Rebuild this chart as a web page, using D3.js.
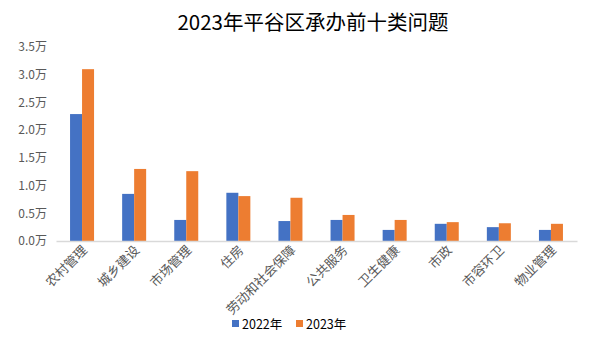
<!DOCTYPE html>
<html><head><meta charset="utf-8">
<script src="https://cdn.jsdelivr.net/npm/d3@7"></script>
<style>body{margin:0;background:#fff}svg{display:block}</style>
</head><body><svg id="c" width="593" height="338"></svg>
<script>
const categories = ["农村管理","城乡建设","市场管理","住房","劳动和社会保障","公共服务","卫生健康","市政","市容环卫","物业管理"];
const series2022 = [2.29,0.85,0.38,0.87,0.36,0.38,0.20,0.31,0.25,0.20];
const series2023 = [3.10,1.30,1.26,0.81,0.78,0.47,0.38,0.34,0.32,0.31];
const seriesNames = ["2022年","2023年"];
const yTicks = [0,0.5,1.0,1.5,2.0,2.5,3.0,3.5];
const colors = ["#4472C4","#ED7D31"];
const font = "'Noto Sans CJK SC','Noto Sans',sans-serif";

const svg = d3.select("#c");
const L=56, R=577, T=47, B=241;
const x = d3.scaleBand().domain(categories).range([L,R]);
const y = d3.scaleLinear().domain([0,3.5]).range([B,T]);
const bw = 12;

svg.append("text").attr("x",313).attr("y",30).attr("text-anchor","middle")
  .attr("font-family",font).attr("font-size",20.5).attr("fill","#000")
  .text("2023年平谷区承办前十类问题");

const yAxis = svg.append("g").attr("transform",`translate(${L},0)`)
  .call(d3.axisLeft(y).tickValues(yTicks).tickSize(0).tickPadding(9).tickFormat(d=>d3.format(".1f")(d)+"万"));
yAxis.select(".domain").remove();
yAxis.selectAll("text").attr("font-family",font).attr("font-size",12).attr("fill","#595959");

const data = [series2022, series2023];
data.forEach((s,si)=>{
  svg.append("g").selectAll("rect").data(s).join("rect")
    .attr("x",(d,i)=>x(categories[i])+x.bandwidth()/2 - bw + si*bw)
    .attr("y",d=>y(d)).attr("width",bw).attr("height",d=>B-y(d))
    .attr("fill",colors[si]);
});

const xAxis = svg.append("g").attr("transform",`translate(0,${B})`)
  .call(d3.axisBottom(x).tickSize(0).tickPadding(0));
xAxis.select(".domain").attr("stroke","#d9d9d9").attr("stroke-width",1.5);
xAxis.selectAll("text").attr("font-family",font).attr("font-size",13).attr("fill","#595959")
  .attr("text-anchor","end").attr("dy",0).attr("y",0)
  .attr("transform","translate(6,10) rotate(-45)");

const lg = svg.append("g");
const lx = [232,296];
seriesNames.forEach((n,i)=>{
  lg.append("rect").attr("x",lx[i]).attr("y",320).attr("width",7).attr("height",7).attr("fill",colors[i]);
  lg.append("text").attr("x",lx[i]+10).attr("y",329).attr("font-family",font).attr("font-size",12.5)
    .attr("fill","#000").text(n);
});
</script></body></html>
